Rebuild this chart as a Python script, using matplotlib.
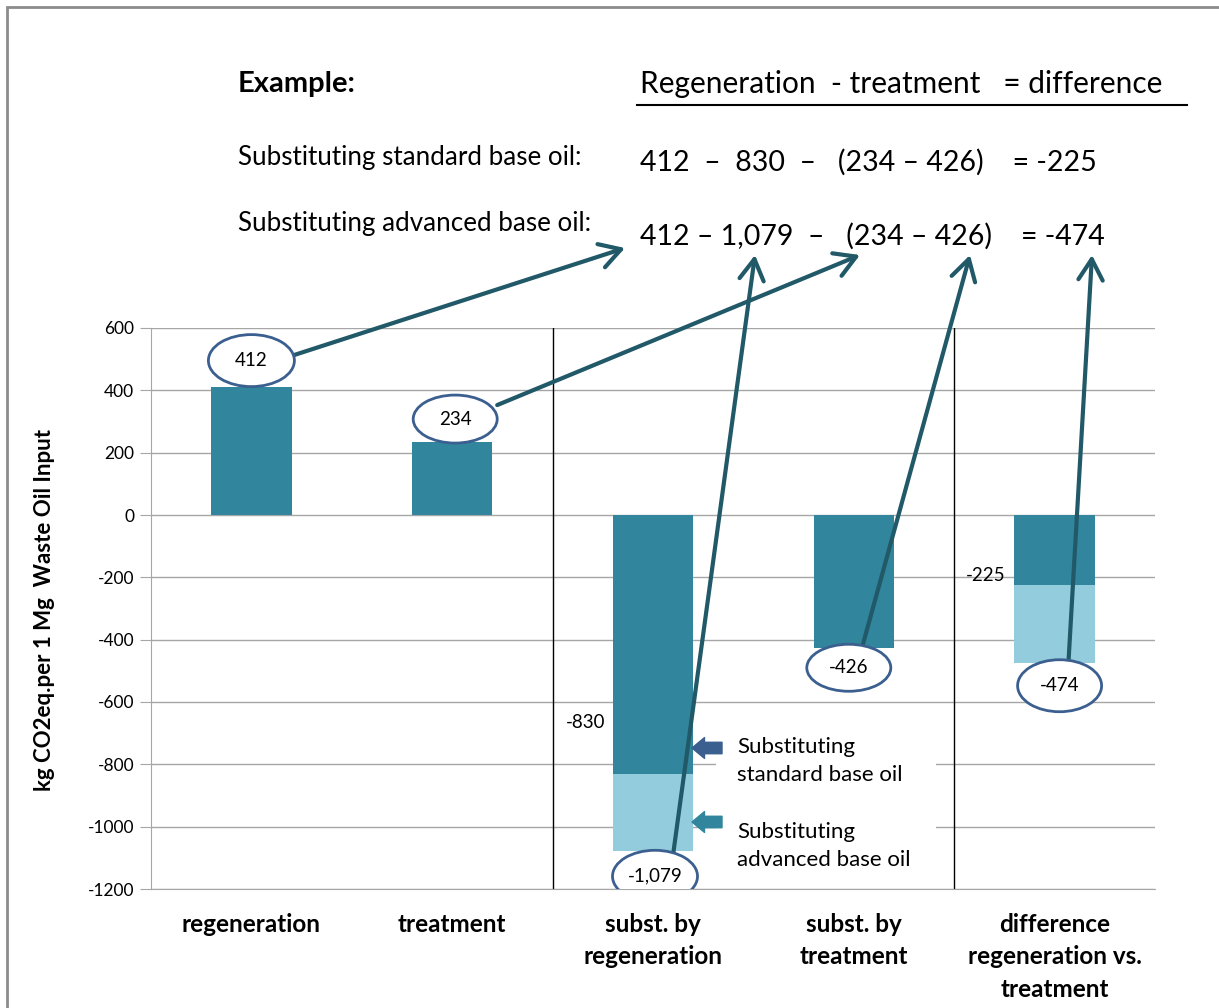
import matplotlib
matplotlib.use('Agg')
import matplotlib.pyplot as plt
from matplotlib.patches import Ellipse, Rectangle
from matplotlib.lines import Line2D
from matplotlib.transforms import ScaledTranslation, Affine2D
import numpy as np

# data
categories = ['regeneration', 'treatment', 'subst. by\nregeneration',
              'subst. by\ntreatment', 'difference\nregeneration vs.\ntreatment']
standard_vals = [412, 234, -830, -426, -225]
advanced_extra = [0, 0, -249, 0, -249]
total_labels = ['412', '234', '-1,079', '-426', '-474']
total_vals = [412, 234, -1079, -426, -474]
y_ticks = [600, 400, 200, 0, -200, -400, -600, -800, -1000, -1200]

DARK = '#31859c'
LIGHT = '#93cddd'
ARROW = '#215968'
RING = '#3b5f8f'

W, H = 1219, 1008
plt.rcParams['font.family'] = ['Lato', 'DejaVu Sans']

def fx(px):
    return px / W

def fy(py):
    return 1 - py / H

fig = plt.figure(figsize=(W / 100, H / 100), dpi=100)
ax = fig.add_axes([fx(151), fy(889), (1155 - 151) / W, (889 - 328) / H])

x = np.arange(len(categories))
ax.bar(x, standard_vals, width=0.4, color=DARK, zorder=2)
ax.bar(x, advanced_extra, width=0.4, bottom=standard_vals, color=LIGHT, zorder=2)

ax.set_xlim(-0.5, 4.5)
ax.set_ylim(-1200, 600)
ax.set_yticks(y_ticks)
ax.set_yticklabels([str(v) for v in y_ticks], fontsize=12.5)
ax.yaxis.grid(True, color='#a6a6a6', lw=1)
ax.set_axisbelow(True)
ax.tick_params(axis='y', length=8, color='#a6a6a6', pad=4)
ax.set_xticks(x)
ax.set_xticklabels(categories, fontsize=17.5, fontweight='bold', linespacing=1.5)
ax.tick_params(axis='x', length=0, pad=17)
for s in ['top', 'right']:
    ax.spines[s].set_visible(False)
ax.spines['left'].set_color('#a6a6a6')
ax.spines['bottom'].set_color('#a6a6a6')

# separators
ax.axvline(1.5, color='black', lw=1, zorder=1)
ax.axvline(3.5, color='black', lw=1, zorder=1)

# white legend area
ax.add_patch(Rectangle((fx(716), fy(880)), (936 - 716) / W, (880 - 733) / H,
                       transform=fig.transFigure, facecolor='white',
                       edgecolor='none', zorder=1))

# ellipse labels (pixel offsets from bar end)
label_offsets = [(0, 26), (3, 23), (2, -25), (-5, -20), (5, -23)]
ellipse_sizes = [(86, 52), (84, 48), (85, 52), (84, 47), (84, 52)]
for i in range(len(categories)):
    dx, dy = label_offsets[i]
    ew, eh = ellipse_sizes[i]
    trans = fig.dpi_scale_trans + ScaledTranslation(x[i], total_vals[i], ax.transData)
    ax.add_patch(Ellipse((dx / 100, dy / 100), ew / 100, eh / 100, transform=trans,
                         facecolor='white', edgecolor=RING, lw=2, zorder=5))
    ax.annotate(total_labels[i], xy=(x[i], total_vals[i]), xytext=(dx, dy),
                textcoords='offset pixels', ha='center', va='center',
                fontsize=13.5, zorder=6)

# standard value labels for stacked bars
ax.annotate('-830', xy=(2, -830), xytext=(-67, 51), textcoords='offset pixels',
            ha='center', va='center', fontsize=13.5)
ax.annotate('-225', xy=(4, -225), xytext=(-69, 10), textcoords='offset pixels',
            ha='center', va='center', fontsize=13.5)

# arrows from labels to the equation
arrow_starts = [(41, 31), (45, 37), (20, -4), (9, 3), (14, 3)]
arrow_targets = [(625, 248), (755, 255), (860, 255), (970, 255), (1092, 255)]
arrow_src = [0, 2, 1, 3, 4]
for k in range(5):
    i = arrow_src[k]
    sx, sy = arrow_starts[i]
    tx, ty = arrow_targets[k]
    ax.annotate('', xy=(tx, H - ty), xycoords='figure pixels',
                xytext=(x[i], total_vals[i]),
                textcoords=ax.transData + Affine2D().translate(sx, sy),
                arrowprops=dict(arrowstyle='->,head_length=0.6,head_width=0.35',
                                color=ARROW, lw=3, shrinkA=0, shrinkB=0,
                                mutation_scale=25),
                annotation_clip=False, zorder=4)

# legend keys
legend_keys = [(748, RING), (822, DARK)]
for py, c in legend_keys:
    ax.annotate('', xy=(fx(692), fy(py)), xycoords='figure fraction',
                xytext=(fx(722), fy(py)), textcoords='figure fraction',
                arrowprops=dict(arrowstyle='simple,head_length=0.6,head_width=1.0,tail_width=0.55',
                                color=c, shrinkA=0, shrinkB=0, mutation_scale=15),
                annotation_clip=False, zorder=4)
fig.text(fx(737), fy(761), 'Substituting\nstandard base oil', fontsize=16,
         ha='left', va='center', linespacing=1.45)
fig.text(fx(737), fy(846), 'Substituting\nadvanced base oil', fontsize=16,
         ha='left', va='center', linespacing=1.45)

# y label
fig.text(fx(45), fy(610), 'kg CO2eq.per 1 Mg  Waste Oil Input', rotation=90,
         fontsize=16, fontweight='bold', ha='center', va='center')

# header equation
fig.text(fx(238), fy(84), 'Example:', fontsize=21, fontweight='bold', va='center')
fig.text(fx(640), fy(84), 'Regeneration  - treatment   = difference', fontsize=21.5, va='center')
fig.add_artist(Line2D([fx(637), fx(1187)], [fy(105), fy(105)], color='black', lw=1.5))
fig.text(fx(238), fy(157), 'Substituting standard base oil:', fontsize=18.7, va='center')
fig.text(fx(640), fy(162), '412  \u2013  830  \u2013   (234 \u2013 426)    = -225', fontsize=20.5, va='center')
fig.text(fx(238), fy(224), 'Substituting advanced base oil:', fontsize=18.7, va='center')
fig.text(fx(640), fy(236), '412 \u2013 1,079  \u2013   (234 \u2013 426)    = -474', fontsize=20.5, va='center')

# outer frame
fig.add_artist(Rectangle((fx(7), -0.5), 2, fy(7) + 0.5, transform=fig.transFigure,
                         fill=False, edgecolor='#8c8c8c', lw=2))

fig.savefig('out.png', dpi=100)
